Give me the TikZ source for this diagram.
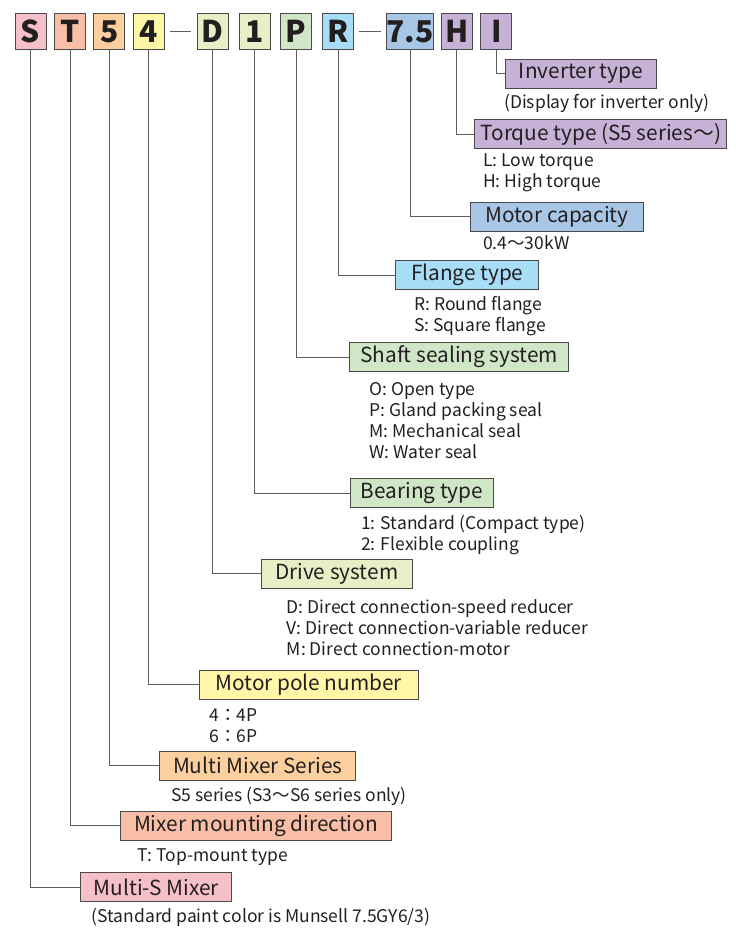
\documentclass[tikz,border=0pt]{standalone}
\usepackage{fontspec}
\setmainfont{Noto Sans CJK JP}
\usetikzlibrary{positioning,calc}
\definecolor{txt}{HTML}{231F20}
\definecolor{edge}{HTML}{4A4A4A}
\definecolor{pinkS}{HTML}{F6C0C9}
\definecolor{salmonT}{HTML}{F8BFA6}
\definecolor{orangeF}{HTML}{FCD09E}
\definecolor{yellowP}{HTML}{FFF7A7}
\definecolor{limeD}{HTML}{E6EFC5}
\definecolor{greenS}{HTML}{CFE6C7}
\definecolor{skyR}{HTML}{A8DDF7}
\definecolor{blueM}{HTML}{A8C7E7}
\definecolor{lilacH}{HTML}{C8B1D6}
\tikzset{
  codebox/.style={draw=edge,line width=0.9pt,minimum width=31pt,minimum height=36pt,inner sep=0pt,
    font=\fontsize{30}{31}\selectfont\bfseries,text=txt},
  labelbox/.style={draw=edge,line width=0.9pt,minimum height=29pt,inner sep=0pt,anchor=west,
    font=\fontsize{20.8}{22}\selectfont,text=txt},
  desc/.style={anchor=west,inner sep=0pt,align=left,text=txt,
    font=\fontsize{17.5}{21}\selectfont},
  link/.style={draw=edge!90,line width=0.8pt},
}
\begin{document}
\begin{tikzpicture}[x=1pt,y=-1pt]
  \useasboundingbox (0,0) rectangle (736,929);

  % model code
  \node[codebox,fill=pinkS] (cS) at (30.5,31.7) {S};
  \node[codebox,fill=salmonT] (cT) at (70,31.7) {T};
  \node[codebox,fill=orangeF] (c5) at (109.2,31.7) {5};
  \node[codebox,fill=yellowP] (c4) at (148.5,31.7) {4};
  \node[codebox,fill=limeD] (cD) at (212.8,31.7) {D};
  \node[codebox,fill=limeD] (c1) at (254.5,31.7) {1};
  \node[codebox,fill=greenS] (cP) at (296.2,31.7) {P};
  \node[codebox,fill=skyR] (cR) at (338.2,31.7) {R};
  \node[codebox,fill=blueM,minimum width=47pt] (c75) at (410.2,31.7) {7.5};
  \node[codebox,fill=lilacH] (cH) at (456.8,31.7) {H};
  \node[codebox,fill=lilacH] (cI) at (496.3,31.7) {I};

  \draw[link] ([xshift=6pt]c4.east) -- ([xshift=-6pt]cD.west);
  \draw[link] ([xshift=5pt]cR.east) -- ([xshift=-5pt]c75.west);

  % item boxes
  \node[labelbox,fill=lilacH,minimum width=151pt] (inv) at (505,73.8) {Inverter type};
  \node[labelbox,fill=lilacH,minimum width=252pt] (torque) at (474.3,134.3) {Torque type (S5 series～)};
  \node[labelbox,fill=blueM,minimum width=173pt] (cap) at (470,216.7) {Motor capacity};
  \node[labelbox,fill=skyR,minimum width=143pt] (flange) at (395.3,275.2) {Flange type};
  \node[labelbox,fill=greenS,minimum width=219pt] (shaft) at (349.3,356.9) {Shaft sealing system};
  \node[labelbox,fill=greenS,minimum width=143pt] (bearing) at (350,493.4) {Bearing type};
  \node[labelbox,fill=limeD,minimum width=151pt] (drive) at (260.7,573.5) {Drive system};
  \node[labelbox,fill=yellowP,minimum width=219pt] (pole) at (198.7,684.7) {Motor pole number};
  \node[labelbox,fill=orangeF,minimum width=196pt] (series) at (159.3,765.5) {Multi Mixer Series};
  \node[labelbox,fill=salmonT,minimum width=271pt] (mount) at (120,825.5) {Mixer mounting direction};
  \node[labelbox,fill=pinkS,minimum width=151pt] (multi) at (80.3,887.2) {Multi-S Mixer};

  % notes
  \node[desc] (invN) at (504,103) {(Display for inverter only)};
  \node[desc] (torqueN) at (483,173) {L: Low torque\\H: High torque};
  \node[desc] (capN) at (483,242.7) {0.4～30kW};
  \node[desc] (flangeN) at (414,316) {R: Round flange\\S: Square flange};
  \node[desc] (shaftN) at (369.3,421) {O: Open type\\P: Gland packing seal\\M: Mechanical seal\\W: Water seal};
  \node[desc] (bearingN) at (361,535) {1: Standard (Compact type)\\2: Flexible coupling};
  \node[desc] (driveN) at (286.7,627.5) {D: Direct connection-speed reducer\\V: Direct connection-variable reducer\\M: Direct connection-motor};
  \node[desc] (poleN) at (209.3,726) {4：4P\\6：6P};
  \node[desc] (seriesN) at (171,796) {S5 series (S3～S6 series only)};
  \node[desc] (mountN) at (137.3,856.7) {T: Top-mount type};
  \node[desc] (multiN) at (91.7,917.3) {(Standard paint color is Munsell 7.5GY6/3)};

  % leaders
  \draw[link] (cI.south) |- (inv.west);
  \draw[link] (cH.south) |- (torque.west);
  \draw[link] (c75.south) |- (cap.west);
  \draw[link] (cR.south) |- (flange.west);
  \draw[link] (cP.south) |- (shaft.west);
  \draw[link] (c1.south) |- (bearing.west);
  \draw[link] (cD.south) |- (drive.west);
  \draw[link] (c4.south) |- (pole.west);
  \draw[link] (c5.south) |- (series.west);
  \draw[link] (cT.south) |- (mount.west);
  \draw[link] (cS.south) |- (multi.west);
\end{tikzpicture}
\end{document}
